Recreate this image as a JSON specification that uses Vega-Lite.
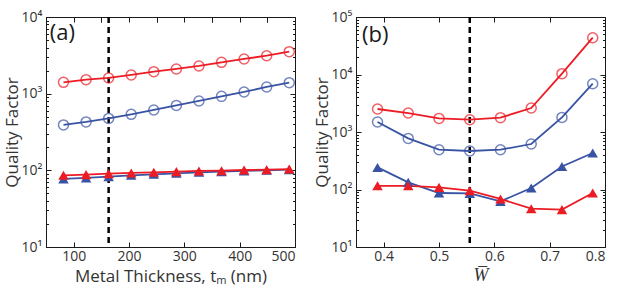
{
  "$schema": "https://vega.github.io/schema/vega-lite/v6.json",
  "padding": {"left": 2, "top": 9, "right": 2, "bottom": 0},
  "spacing": 14,
  "datasets": {
    "a": [
      {"t": 81.6, "Q": 1404, "series": "rc", "color": "red", "marker": "circle"},
      {"t": 122.4, "Q": 1523, "series": "rc", "color": "red", "marker": "circle"},
      {"t": 163.2, "Q": 1603, "series": "rc", "color": "red", "marker": "circle"},
      {"t": 204, "Q": 1753, "series": "rc", "color": "red", "marker": "circle"},
      {"t": 244.8, "Q": 1936, "series": "rc", "color": "red", "marker": "circle"},
      {"t": 285.6, "Q": 2100, "series": "rc", "color": "red", "marker": "circle"},
      {"t": 326.4, "Q": 2297, "series": "rc", "color": "red", "marker": "circle"},
      {"t": 367.2, "Q": 2560, "series": "rc", "color": "red", "marker": "circle"},
      {"t": 408, "Q": 2835, "series": "rc", "color": "red", "marker": "circle"},
      {"t": 448.8, "Q": 3128, "series": "rc", "color": "red", "marker": "circle"},
      {"t": 489.6, "Q": 3528, "series": "rc", "color": "red", "marker": "circle"},
      {"t": 81.6, "Q": 391, "series": "bc", "color": "blue", "marker": "circle"},
      {"t": 122.4, "Q": 428, "series": "bc", "color": "blue", "marker": "circle"},
      {"t": 163.2, "Q": 476, "series": "bc", "color": "blue", "marker": "circle"},
      {"t": 204, "Q": 537, "series": "bc", "color": "blue", "marker": "circle"},
      {"t": 244.8, "Q": 613, "series": "bc", "color": "blue", "marker": "circle"},
      {"t": 285.6, "Q": 703, "series": "bc", "color": "blue", "marker": "circle"},
      {"t": 326.4, "Q": 803, "series": "bc", "color": "blue", "marker": "circle"},
      {"t": 367.2, "Q": 922, "series": "bc", "color": "blue", "marker": "circle"},
      {"t": 408, "Q": 1052, "series": "bc", "color": "blue", "marker": "circle"},
      {"t": 448.8, "Q": 1223, "series": "bc", "color": "blue", "marker": "circle"},
      {"t": 489.6, "Q": 1391, "series": "bc", "color": "blue", "marker": "circle"},
      {"t": 81.6, "Q": 77.3, "series": "bt", "color": "blue", "marker": "triangle"},
      {"t": 122.4, "Q": 79.6, "series": "bt", "color": "blue", "marker": "triangle"},
      {"t": 163.2, "Q": 82.8, "series": "bt", "color": "blue", "marker": "triangle"},
      {"t": 204, "Q": 86.1, "series": "bt", "color": "blue", "marker": "triangle"},
      {"t": 244.8, "Q": 88.7, "series": "bt", "color": "blue", "marker": "triangle"},
      {"t": 285.6, "Q": 91.4, "series": "bt", "color": "blue", "marker": "triangle"},
      {"t": 326.4, "Q": 94.2, "series": "bt", "color": "blue", "marker": "triangle"},
      {"t": 367.2, "Q": 96.1, "series": "bt", "color": "blue", "marker": "triangle"},
      {"t": 408, "Q": 98.1, "series": "bt", "color": "blue", "marker": "triangle"},
      {"t": 448.8, "Q": 100, "series": "bt", "color": "blue", "marker": "triangle"},
      {"t": 489.6, "Q": 102, "series": "bt", "color": "blue", "marker": "triangle"},
      {"t": 81.6, "Q": 86.1, "series": "rt", "color": "red", "marker": "triangle"},
      {"t": 122.4, "Q": 87.9, "series": "rt", "color": "red", "marker": "triangle"},
      {"t": 163.2, "Q": 90.6, "series": "rt", "color": "red", "marker": "triangle"},
      {"t": 204, "Q": 92.5, "series": "rt", "color": "red", "marker": "triangle"},
      {"t": 244.8, "Q": 94.2, "series": "rt", "color": "red", "marker": "triangle"},
      {"t": 285.6, "Q": 96.1, "series": "rt", "color": "red", "marker": "triangle"},
      {"t": 326.4, "Q": 98.1, "series": "rt", "color": "red", "marker": "triangle"},
      {"t": 367.2, "Q": 99.0, "series": "rt", "color": "red", "marker": "triangle"},
      {"t": 408, "Q": 101, "series": "rt", "color": "red", "marker": "triangle"},
      {"t": 448.8, "Q": 102, "series": "rt", "color": "red", "marker": "triangle"},
      {"t": 489.6, "Q": 104, "series": "rt", "color": "red", "marker": "triangle"}
    ],
    "b": [
      {"W": 0.3889, "Q": 2512, "series": "rc", "color": "red", "marker": "circle"},
      {"W": 0.4444, "Q": 2138, "series": "rc", "color": "red", "marker": "circle"},
      {"W": 0.5, "Q": 1725, "series": "rc", "color": "red", "marker": "circle"},
      {"W": 0.5556, "Q": 1637, "series": "rc", "color": "red", "marker": "circle"},
      {"W": 0.6111, "Q": 1774, "series": "rc", "color": "red", "marker": "circle"},
      {"W": 0.6667, "Q": 2614, "series": "rc", "color": "red", "marker": "circle"},
      {"W": 0.7222, "Q": 10330, "series": "rc", "color": "red", "marker": "circle"},
      {"W": 0.7778, "Q": 43650, "series": "rc", "color": "red", "marker": "circle"},
      {"W": 0.3889, "Q": 1493, "series": "bc", "color": "blue", "marker": "circle"},
      {"W": 0.4444, "Q": 774, "series": "bc", "color": "blue", "marker": "circle"},
      {"W": 0.5, "Q": 492, "series": "bc", "color": "blue", "marker": "circle"},
      {"W": 0.5556, "Q": 467, "series": "bc", "color": "blue", "marker": "circle"},
      {"W": 0.6111, "Q": 492, "series": "bc", "color": "blue", "marker": "circle"},
      {"W": 0.6667, "Q": 618, "series": "bc", "color": "blue", "marker": "circle"},
      {"W": 0.7222, "Q": 1794, "series": "bc", "color": "blue", "marker": "circle"},
      {"W": 0.7778, "Q": 6918, "series": "bc", "color": "blue", "marker": "circle"},
      {"W": 0.3889, "Q": 242, "series": "bt", "color": "blue", "marker": "triangle"},
      {"W": 0.4444, "Q": 133, "series": "bt", "color": "blue", "marker": "triangle"},
      {"W": 0.5, "Q": 86.9, "series": "bt", "color": "blue", "marker": "triangle"},
      {"W": 0.5556, "Q": 85.5, "series": "bt", "color": "blue", "marker": "triangle"},
      {"W": 0.6111, "Q": 62.1, "series": "bt", "color": "blue", "marker": "triangle"},
      {"W": 0.6667, "Q": 106, "series": "bt", "color": "blue", "marker": "triangle"},
      {"W": 0.7222, "Q": 252, "series": "bt", "color": "blue", "marker": "triangle"},
      {"W": 0.7778, "Q": 431, "series": "bt", "color": "blue", "marker": "triangle"},
      {"W": 0.3889, "Q": 116, "series": "rt", "color": "red", "marker": "triangle"},
      {"W": 0.4444, "Q": 116, "series": "rt", "color": "red", "marker": "triangle"},
      {"W": 0.5, "Q": 109, "series": "rt", "color": "red", "marker": "triangle"},
      {"W": 0.5556, "Q": 95.3, "series": "rt", "color": "red", "marker": "triangle"},
      {"W": 0.6111, "Q": 68.4, "series": "rt", "color": "red", "marker": "triangle"},
      {"W": 0.6667, "Q": 46.4, "series": "rt", "color": "red", "marker": "triangle"},
      {"W": 0.7222, "Q": 44.6, "series": "rt", "color": "red", "marker": "triangle"},
      {"W": 0.7778, "Q": 86.9, "series": "rt", "color": "red", "marker": "triangle"}
    ],
    "va": [{"t": 163.2}],
    "vb": [{"W": 0.5556}]
  },
  "config": {
    "font": "Open Sans",
    "view": {"stroke": "#1a1a1a", "strokeWidth": 1},
    "axis": {
      "grid": false,
      "domainColor": "#1a1a1a",
      "tickColor": "#1a1a1a",
      "labelColor": "#333333",
      "titleColor": "#333333",
      "labelFontSize": 14,
      "titleFontSize": 17,
      "titleFontWeight": "normal",
      "tickSize": -5,
      "labelPadding": 9
    },
    "axisX": {"labelPadding": 7}
  },
  "hconcat": [
    {
      "width": 249,
      "height": 230,
      "resolve": {"axis": {"x": "independent", "y": "independent"}},
      "layer": [
        {
          "data": {"name": "va"},
          "mark": {"type": "rule", "color": "black", "strokeWidth": 2.5, "strokeDash": [6, 4]},
          "encoding": {"x": {"field": "t", "type": "quantitative", "scale": {"domain": [50, 500], "nice": false, "zero": false},
              "axis": {"title": "Metal Thickness, tₘ (nm)", "values": [100, 200, 300, 400, 500], "titlePadding": 5}}}
        },
        {
          "data": {"name": "a"},
          "mark": {"type": "line", "strokeWidth": 1.8},
          "encoding": {
            "x": {"field": "t", "type": "quantitative", "scale": {"domain": [50, 500], "nice": false, "zero": false},
              "axis": {"title": null, "values": [150, 250, 350, 450], "labels": false, "domain": false}},
            "y": {"field": "Q", "type": "quantitative", "scale": {"type": "log", "domain": [10, 10000]},
              "axis": {"title": "Quality Factor", "values": [10, 100, 1000, 10000],
                "labelExpr": "datum.value == 10 ? '10¹' : datum.value == 100 ? '10²' : datum.value == 1000 ? '10³' : '10⁴'", "titlePadding": 0}},
            "color": {"field": "color", "type": "nominal", "scale": {"domain": ["red", "blue"], "range": ["#ec1c24", "#3953a4"]}, "legend": null},
            "detail": {"field": "series"}
          }
        },
        {
          "data": {"name": "a"},
          "transform": [{"filter": "datum.marker == 'circle'"}],
          "mark": {"type": "point", "shape": "circle", "filled": false, "size": 100, "strokeWidth": 1.5},
          "encoding": {
            "x": {"field": "t", "type": "quantitative", "axis": {"orient": "top", "title": null, "labels": false, "values": [100, 150, 200, 250, 300, 350, 400, 450]}},
            "y": {"field": "Q", "type": "quantitative", "axis": {"orient": "right", "title": null, "labels": false, "values": [100, 1000]}},
            "color": {"field": "color", "type": "nominal", "legend": null}
          }
        },
        {
          "data": {"name": "a"},
          "transform": [{"filter": "datum.marker == 'triangle'"}],
          "mark": {"type": "point", "shape": "triangle-up", "filled": true, "opacity": 1, "size": 110},
          "encoding": {
            "x": {"field": "t", "type": "quantitative", "axis": null},
            "y": {"field": "Q", "type": "quantitative", "axis": {"title": null, "labels": false, "domain": false, "tickSize": -2.5,
              "values": [20, 30, 40, 50, 60, 70, 80, 90, 200, 300, 400, 500, 600, 700, 800, 900, 2000, 3000, 4000, 5000, 6000, 7000, 8000, 9000]}},
            "color": {"field": "color", "type": "nominal", "legend": null}
          }
        },
        {
          "data": {"name": "va"},
          "mark": {"type": "text", "text": "(a)", "fontSize": 22, "align": "left", "baseline": "middle", "color": "#1a1a1a"},
          "encoding": {
            "x": {"datum": 57, "type": "quantitative", "axis": null},
            "y": {"datum": 6240, "type": "quantitative", "axis": {"orient": "right", "title": null, "labels": false, "domain": false, "tickSize": -2.5,
              "values": [20, 30, 40, 50, 60, 70, 80, 90, 200, 300, 400, 500, 600, 700, 800, 900, 2000, 3000, 4000, 5000, 6000, 7000, 8000, 9000]}}
          }
        }
      ]
    },
    {
      "width": 249,
      "height": 230,
      "resolve": {"axis": {"x": "independent", "y": "independent"}},
      "layer": [
        {
          "data": {"name": "vb"},
          "mark": {"type": "rule", "color": "black", "strokeWidth": 2.5, "strokeDash": [6, 4]},
          "encoding": {"x": {"field": "W", "type": "quantitative", "scale": {"domain": [0.35, 0.8], "nice": false, "zero": false},
              "axis": {"title": "W̅", "titleFontStyle": "italic", "titleFontSize": 18, "values": [0.4, 0.5, 0.6, 0.7, 0.8], "format": ".1f", "titlePadding": 3}}}
        },
        {
          "data": {"name": "b"},
          "mark": {"type": "line", "strokeWidth": 1.8},
          "encoding": {
            "x": {"field": "W", "type": "quantitative", "scale": {"domain": [0.35, 0.8], "nice": false, "zero": false},
              "axis": {"orient": "top", "title": null, "labels": false, "values": [0.4, 0.5, 0.6, 0.7]}},
            "y": {"field": "Q", "type": "quantitative", "scale": {"type": "log", "domain": [10, 100000]},
              "axis": {"title": "Quality Factor", "values": [10, 100, 1000, 10000, 100000],
                "labelExpr": "datum.value == 10 ? '10¹' : datum.value == 100 ? '10²' : datum.value == 1000 ? '10³' : datum.value == 10000 ? '10⁴' : '10⁵'", "titlePadding": 0}},
            "color": {"field": "color", "type": "nominal", "scale": {"domain": ["red", "blue"], "range": ["#ec1c24", "#3953a4"]}, "legend": null},
            "detail": {"field": "series"}
          }
        },
        {
          "data": {"name": "b"},
          "transform": [{"filter": "datum.marker == 'circle'"}],
          "mark": {"type": "point", "shape": "circle", "filled": false, "size": 100, "strokeWidth": 1.5},
          "encoding": {
            "x": {"field": "W", "type": "quantitative", "axis": null},
            "y": {"field": "Q", "type": "quantitative", "axis": {"orient": "right", "title": null, "labels": false, "values": [100, 1000, 10000]}},
            "color": {"field": "color", "type": "nominal", "legend": null}
          }
        },
        {
          "data": {"name": "b"},
          "transform": [{"filter": "datum.marker == 'triangle'"}],
          "mark": {"type": "point", "shape": "triangle-up", "filled": true, "opacity": 1, "size": 110},
          "encoding": {
            "x": {"field": "W", "type": "quantitative", "axis": null},
            "y": {"field": "Q", "type": "quantitative", "axis": {"title": null, "labels": false, "domain": false, "tickSize": -2.5,
              "values": [20, 30, 40, 50, 60, 70, 80, 90, 200, 300, 400, 500, 600, 700, 800, 900, 2000, 3000, 4000, 5000, 6000, 7000, 8000, 9000, 20000, 30000, 40000, 50000, 60000, 70000, 80000, 90000]}},
            "color": {"field": "color", "type": "nominal", "legend": null}
          }
        },
        {
          "data": {"name": "vb"},
          "mark": {"type": "text", "text": "(b)", "fontSize": 22, "align": "left", "baseline": "middle", "color": "#1a1a1a"},
          "encoding": {
            "x": {"datum": 0.361, "type": "quantitative", "axis": null},
            "y": {"datum": 49200, "type": "quantitative", "axis": {"orient": "right", "title": null, "labels": false, "domain": false, "tickSize": -2.5,
              "values": [20, 30, 40, 50, 60, 70, 80, 90, 200, 300, 400, 500, 600, 700, 800, 900, 2000, 3000, 4000, 5000, 6000, 7000, 8000, 9000, 20000, 30000, 40000, 50000, 60000, 70000, 80000, 90000]}}
          }
        }
      ]
    }
  ]
}
